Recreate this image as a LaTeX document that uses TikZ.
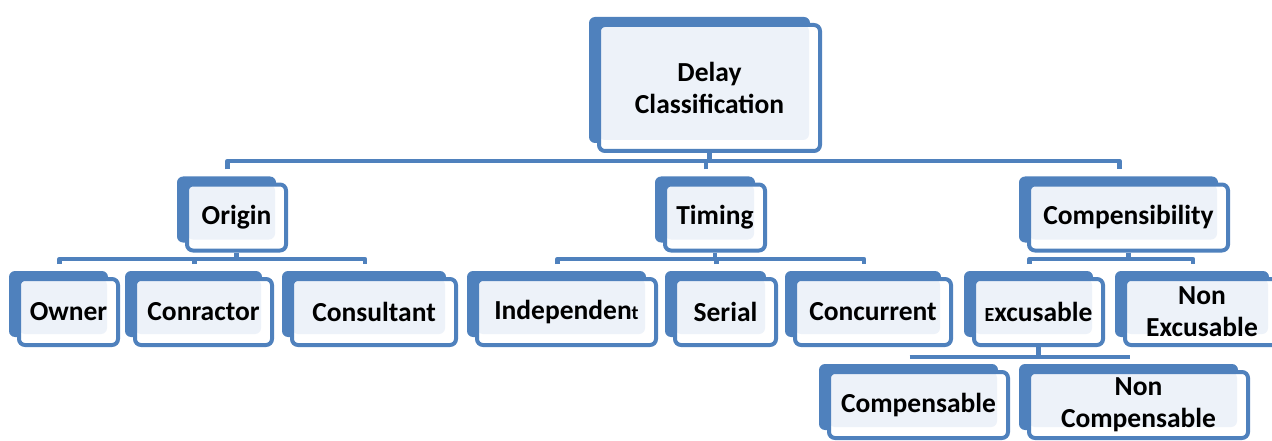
\documentclass[tikz,border=0pt]{standalone}
\usepackage{fontspec}
\setmainfont{Carlito}
\usetikzlibrary{shadows,calc}
\definecolor{boxblue}{HTML}{4F81BD}
\definecolor{boxfill}{HTML}{EDF2F9}
\tikzset{
  catbox/.style={draw=boxblue, line width=4pt, rounded corners=6pt, fill=white,
    minimum height=66pt, align=center, inner sep=0pt,
    font=\fontsize{27.5}{32}\selectfont\bfseries,
    general shadow={fill=boxblue, shadow xshift=-10pt, shadow yshift=8pt},
    path picture={\fill[boxfill] (path picture bounding box.north west)
      rectangle ([xshift=-11pt,yshift=11pt]path picture bounding box.south east);}},
  bus/.style={draw=boxblue, line width=4.5pt, line join=round}
}
\begin{document}
\begin{tikzpicture}[x=1pt,y=-1pt]
  \useasboundingbox (0,0) rectangle (1272,441);
  \clip (0,0) rectangle (1272,441);
  % top level
  \node[catbox, minimum width=221pt, minimum height=126pt] (dly) at (709.5,88) {Delay\\Classification};
  % second level
  \node[catbox, minimum width=99pt] (org) at (236.5,217.5) {Origin};
  \node[catbox, minimum width=100pt] (tim) at (715,217.5) {Timing};
  \node[catbox, minimum width=199pt] (cmp) at (1128.5,217.5) {Compensibility};
  % third level
  \node[catbox, minimum width=99pt] (own) at (68.5,312) {Owner};
  \node[catbox, minimum width=137pt] (con) at (203.5,312) {Conractor};
  \node[catbox, minimum width=164pt] (cns) at (374,312) {Consultant};
  \node[catbox, minimum width=179pt] (ind) at (566.5,312) {Independen{\fontsize{20}{20}\selectfont t}};
  \node[catbox, minimum width=101pt] (ser) at (725.5,312) {Serial};
  \node[catbox, minimum width=156pt] (ccr) at (873,312) {Concurrent};
  \node[catbox, minimum width=129pt] (exc) at (1038.5,312) {{\fontsize{20}{20}\selectfont E}xcusable};
  \node[catbox, minimum width=154pt] (nex) at (1202,312) {Non\\Excusable};
  % fourth level
  \node[catbox, minimum width=179pt] (cpn) at (918.5,405) {Compensable};
  \node[catbox, minimum width=219pt] (ncp) at (1138.5,405) {Non\\Compensable};
  % drop points above each child
  \foreach \n in {org,tim,cmp,own,con,cns,ind,ser,ccr,exc,nex,cpn,ncp}
    \coordinate (\n-t) at ($(\n.north)+(-9,-13)$);
  \coordinate (b1) at (0,161);
  \coordinate (b2) at (0,259);
  \coordinate (b3) at (0,357);
  % connectors
  \draw[bus] (dly.south) -- (dly.south |- b1);
  \draw[bus] (org-t) |- (dly.south |- b1) -| (cmp-t);
  \draw[bus] (tim-t) -- (tim-t |- b1);
  \draw[bus] (org.south) -- (org.south |- b2);
  \draw[bus] (own-t) |- (org.south |- b2) -| (cns-t);
  \draw[bus] (con-t) -- (con-t |- b2);
  \draw[bus] (tim.south) -- (tim.south |- b2);
  \draw[bus] (ind-t) |- (tim.south |- b2) -| (ccr-t);
  \draw[bus] (ser-t) -- (ser-t |- b2);
  \draw[bus] (cmp.south) -- (cmp.south |- b2);
  \draw[bus] (exc-t) |- (cmp.south |- b2) -| (nex-t);
  \draw[bus] (exc.south) -- (exc.south |- b3);
  \draw[bus] (cpn-t) |- (exc.south |- b3) -| (ncp-t);
\end{tikzpicture}
\end{document}
